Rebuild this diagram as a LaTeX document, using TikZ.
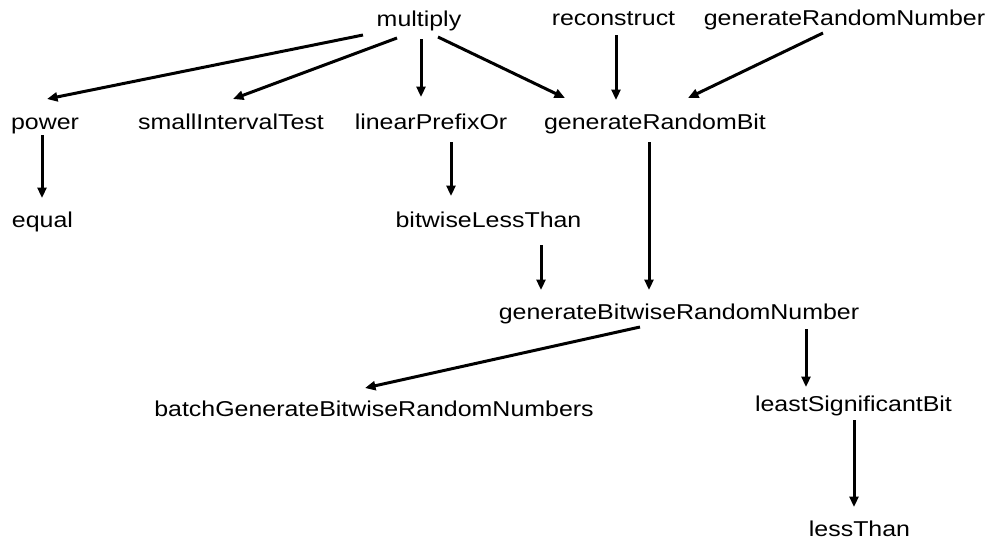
\documentclass[tikz,border=0pt]{standalone}
\usepackage{fontspec}
\setmainfont{Liberation Sans}[FakeStretch=1.16]
\usetikzlibrary{arrows.meta}
\begin{document}
\begin{tikzpicture}[x=1pt,y=-1pt,
  fn/.style={anchor=base,inner sep=0pt,font=\fontsize{21.5}{25}\selectfont},
  call/.style={line width=3pt,-{Triangle[length=10.5pt,width=9pt]}}]
\useasboundingbox[fill=white] (0,0) rectangle (994,542);

% functions, placed by their baselines
\node[fn] (multiply)    at (419,26)   {multiply};
\node[fn] (reconstruct) at (613.5,25) {reconstruct};
\node[fn] (grn)         at (844.5,25) {generateRandomNumber};
\node[fn] (power)       at (45,129)   {power};
\node[fn] (sit)         at (231,129)  {smallIntervalTest};
\node[fn] (lpo)         at (431,129)  {linearPrefixOr};
\node[fn] (grb)         at (655,129)  {generateRandomBit};
\node[fn] (equal)       at (42.5,227) {equal};
\node[fn] (blt)         at (488.5,227){bitwiseLessThan};
\node[fn] (gbrn)        at (679,319)  {generateBitwiseRandomNumber};
\node[fn] (batch)       at (374,416)  {batchGenerateBitwiseRandomNumbers};
\node[fn] (lsb)         at (853.5,411){leastSignificantBit};
\node[fn] (lt)          at (859.5,536){lessThan};

% call edges
\draw[call] ([shift={(-56,9)}]multiply.base)   -- ([shift={(2,-30)}]power.base);
\draw[call] ([shift={(-22,12)}]multiply.base)  -- ([shift={(2,-30)}]sit.base);
\draw[call] ([shift={(2,13)}]multiply.base)    -- ([shift={(-10,-32)}]lpo.base);
\draw[call] ([shift={(19,11)}]multiply.base)   -- ([shift={(-90,-31)}]grb.base);
\draw[call] ([shift={(2.5,10)}]reconstruct.base) -- ([shift={(-39,-29)}]grb.base);
\draw[call] ([shift={(-21.5,8)}]grn.base)      -- ([shift={(33,-31)}]grb.base);
\draw[call] ([shift={(-3,6)}]power.base)       -- ([shift={(-0.5,-29)}]equal.base);
\draw[call] ([shift={(20,13)}]lpo.base)        -- ([shift={(-37.5,-31)}]blt.base);
\draw[call] ([shift={(52.5,18)}]blt.base)      -- ([shift={(-138,-29)}]gbrn.base);
\draw[call] ([shift={(-6,13)}]grb.base)        -- ([shift={(-30,-29)}]gbrn.base);
\draw[call] ([shift={(-39,8)}]gbrn.base)       -- ([shift={(-9,-28)}]batch.base);
\draw[call] ([shift={(127,10)}]gbrn.base)      -- ([shift={(-47.5,-24)}]lsb.base);
\draw[call] ([shift={(0.5,9)}]lsb.base)        -- ([shift={(-5.5,-29)}]lt.base);
\end{tikzpicture}
\end{document}
